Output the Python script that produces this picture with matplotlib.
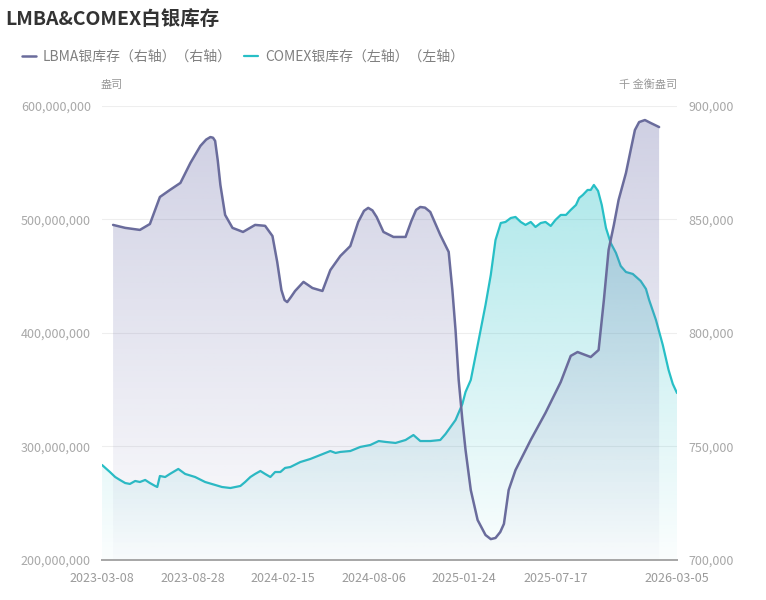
import matplotlib
matplotlib.use('Agg')
import numpy as np
import pandas as pd
import matplotlib.pyplot as plt
import matplotlib.dates as mdates
from matplotlib.ticker import FixedLocator, FuncFormatter

plt.rcParams['font.family'] = ['Noto Sans CJK SC', 'DejaVu Sans']

# LBMA (千金衡盎司, 右轴)
lbma_dates = ['2023-03-29', '2023-04-21', '2023-05-19', '2023-06-07', '2023-06-26', '2023-07-15',
              '2023-08-04', '2023-08-23', '2023-09-11', '2023-09-22', '2023-09-30', '2023-10-05',
              '2023-10-09', '2023-10-14', '2023-10-19', '2023-10-28', '2023-11-11', '2023-12-01',
              '2023-12-24', '2024-01-12', '2024-01-26', '2024-02-04', '2024-02-12', '2024-02-18',
              '2024-02-23', '2024-03-01', '2024-03-09', '2024-03-25', '2024-04-11', '2024-04-30',
              '2024-05-15', '2024-06-03', '2024-06-22', '2024-07-07', '2024-07-18', '2024-07-26',
              '2024-08-03', '2024-08-11', '2024-08-24', '2024-09-12', '2024-10-05', '2024-10-16',
              '2024-10-25', '2024-11-02', '2024-11-11', '2024-11-21', '2024-12-10', '2024-12-26',
              '2025-01-02', '2025-01-08', '2025-01-14', '2025-01-21', '2025-01-27', '2025-02-06',
              '2025-02-19', '2025-03-06', '2025-03-16', '2025-03-25', '2025-04-03', '2025-04-10',
              '2025-04-19', '2025-05-02', '2025-05-31', '2025-06-28', '2025-07-27', '2025-08-15',
              '2025-08-28', '2025-09-22', '2025-10-07', '2025-10-17', '2025-10-26', '2025-11-05',
              '2025-11-14', '2025-11-28', '2025-12-07', '2025-12-15', '2025-12-23', '2026-01-03',
              '2026-01-14', '2026-01-30']
lbma_vals = [847600, 846300, 845400, 848000, 859900, 863000,
             866100, 874900, 882400, 885200, 886300, 886000,
             884600, 876000, 865200, 852000, 846300, 844500,
             847600, 847200, 842700, 831300, 818900, 814500,
             813600, 815800, 818500, 822500, 819800, 818500,
             827700, 833900, 838300, 848900, 853800, 855100,
             854000, 851100, 844500, 842300, 842300, 849300,
             854200, 855500, 855200, 853300, 843200, 835700,
             818900, 801300, 779300, 761700, 748500, 730800,
             717600, 711000, 709200, 709700, 712300, 715900,
             730800, 739600, 752900, 764800, 778400, 789900,
             791600, 789400, 792500, 814500, 836600, 847600,
             858600, 870500, 880600, 889400, 892900, 893800,
             892500, 890700]

# COMEX (盎司, 左轴)
comex_dates = ['2023-03-08', '2023-03-23', '2023-04-02', '2023-04-11', '2023-04-21', '2023-04-30',
               '2023-05-10', '2023-05-19', '2023-05-29', '2023-06-07', '2023-06-17', '2023-06-21',
               '2023-06-26', '2023-07-06', '2023-07-15', '2023-07-31', '2023-08-13', '2023-09-01',
               '2023-09-20', '2023-10-09', '2023-10-22', '2023-11-07', '2023-11-26', '2023-12-05',
               '2023-12-15', '2023-12-24', '2024-01-03', '2024-01-12', '2024-01-22', '2024-01-31',
               '2024-02-10', '2024-02-19', '2024-02-29', '2024-03-19', '2024-04-07', '2024-04-26',
               '2024-05-15', '2024-05-25', '2024-06-03', '2024-06-22', '2024-07-11', '2024-07-30',
               '2024-08-15', '2024-08-28', '2024-09-16', '2024-10-05', '2024-10-20', '2024-11-02',
               '2024-11-21', '2024-12-10', '2024-12-20', '2025-01-08', '2025-01-21', '2025-01-27',
               '2025-02-06', '2025-02-21', '2025-03-06', '2025-03-16', '2025-03-25', '2025-04-04',
               '2025-04-13', '2025-04-23', '2025-05-02', '2025-05-12', '2025-05-21', '2025-05-31',
               '2025-06-09', '2025-06-19', '2025-06-28', '2025-07-08', '2025-07-17', '2025-07-27',
               '2025-08-06', '2025-08-15', '2025-08-25', '2025-08-31', '2025-09-07', '2025-09-16',
               '2025-09-22', '2025-09-28', '2025-10-06', '2025-10-13', '2025-10-21', '2025-10-30',
               '2025-11-09', '2025-11-18', '2025-11-28', '2025-12-11', '2025-12-26', '2026-01-05',
               '2026-01-11', '2026-01-24', '2026-02-06', '2026-02-17', '2026-02-25', '2026-03-05']
comex_vals = [283.7e6, 277.5e6, 273.1e6, 270.5e6, 267.8e6, 267.0e6,
              269.6e6, 268.7e6, 270.5e6, 267.8e6, 265.2e6, 264.3e6,
              274.0e6, 273.1e6, 275.8e6, 280.2e6, 275.8e6, 273.1e6,
              268.7e6, 266.1e6, 264.3e6, 263.4e6, 265.2e6, 268.7e6,
              273.1e6, 275.8e6, 278.4e6, 275.8e6, 273.1e6, 277.5e6,
              277.5e6, 281.1e6, 281.9e6, 286.3e6, 289.0e6, 292.5e6,
              296.0e6, 294.3e6, 295.2e6, 296.0e6, 299.6e6, 301.3e6,
              304.8e6, 304.0e6, 303.1e6, 305.7e6, 310.1e6, 304.8e6,
              304.8e6, 305.7e6, 311.0e6, 323.3e6, 337.4e6, 348.0e6,
              358.6e6, 393.8e6, 424.7e6, 451.1e6, 481.9e6, 496.9e6,
              497.8e6, 501.3e6, 502.2e6, 497.8e6, 495.2e6, 497.8e6,
              493.4e6, 496.9e6, 497.8e6, 494.3e6, 499.6e6, 504.0e6,
              504.0e6, 508.4e6, 512.8e6, 518.9e6, 521.6e6, 526.0e6,
              526.0e6, 530.4e6, 525.1e6, 512.8e6, 492.5e6, 479.3e6,
              470.5e6, 459.0e6, 453.7e6, 452.0e6, 445.8e6, 438.8e6,
              429.1e6, 411.5e6, 389.4e6, 367.4e6, 355.1e6, 347.1e6]

x_ticks = ['2023-03-08', '2023-08-28', '2024-02-15', '2024-08-06', '2025-01-24', '2025-07-17', '2026-03-05']
left_ticks = [200e6, 300e6, 400e6, 500e6, 600e6]
right_ticks = [700000, 750000, 800000, 850000, 900000]

lbma_color = '#6a6c9c'
comex_color = '#27bfc6'


def gradient_fill(ax, x, y, base, rgb, a_top, a_bot, z):
    x = np.asarray(x)
    y = np.asarray(y)
    poly = ax.fill_between(x, y, base, facecolor='none', edgecolor='none', zorder=z)
    grad = np.zeros((256, 1, 4))
    grad[:, :, :3] = rgb
    grad[:, 0, 3] = np.linspace(a_top, a_bot, 256)
    im = ax.imshow(grad, aspect='auto', origin='upper',
                   extent=[x.min(), x.max(), base, y.max()], zorder=z)
    im.set_clip_path(poly.get_paths()[0], transform=ax.transData)


fig = plt.figure(figsize=(7.66, 6.0), dpi=100)
ax = fig.add_axes([0.1332, 0.0667, 0.7506, 0.7567])
ax2 = ax.twinx()

xl = mdates.date2num(pd.to_datetime(lbma_dates))
xc = mdates.date2num(pd.to_datetime(comex_dates))

gradient_fill(ax, xc, comex_vals, 200e6, (38/255, 192/255, 199/255), 0.36, 0.02, 1)
lc, = ax.plot(xc, comex_vals, color=comex_color, lw=1.6, zorder=3,
              solid_joinstyle='round', solid_capstyle='round')

gradient_fill(ax2, xl, lbma_vals, 700000, (110/255, 112/255, 170/255), 0.33, 0.02, 1)
ll, = ax2.plot(xl, lbma_vals, color=lbma_color, lw=1.8, zorder=3,
               solid_joinstyle='round', solid_capstyle='round')

xmin = mdates.date2num(pd.Timestamp('2023-03-08'))
xmax = mdates.date2num(pd.Timestamp('2026-03-05'))
ax.set_xlim(xmin, xmax)
ax.set_ylim(200e6, 600e6)
ax2.set_ylim(700000, 900000)

ax.xaxis.set_major_locator(FixedLocator(mdates.date2num(pd.to_datetime(x_ticks))))
ax.set_xticklabels(x_ticks)
ax.yaxis.set_major_locator(FixedLocator(left_ticks))
ax.yaxis.set_major_formatter(FuncFormatter(lambda v, p: f'{v:,.0f}'))
ax2.yaxis.set_major_locator(FixedLocator(right_ticks))
ax2.yaxis.set_major_formatter(FuncFormatter(lambda v, p: f'{v:,.0f}'))

ax.grid(axis='y', color='#eeeeee', lw=0.8)
ax.set_axisbelow(True)
for a in (ax, ax2):
    for s in ('top', 'left', 'right'):
        a.spines[s].set_visible(False)
    a.spines['bottom'].set_color('#a8a8a8')
    a.spines['bottom'].set_linewidth(1.4)
ax.tick_params(axis='x', length=0, pad=9, labelsize=9, labelcolor='#9a9a9a')
ax.tick_params(axis='y', length=0, pad=8, labelsize=9, labelcolor='#a8a8a8')
ax2.tick_params(axis='y', length=0, pad=8, labelsize=9, labelcolor='#a8a8a8')

fig.text(0.007, 0.968, 'LMBA&COMEX白银库存', fontsize=14, fontweight='bold', color='#333333', va='center')
fig.legend([ll, lc], ['LBMA银库存（右轴）（右轴）', 'COMEX银库存（左轴）（左轴）'],
           loc='center left', bbox_to_anchor=(0.012, 0.905), ncol=2, frameon=False,
           fontsize=10, labelcolor='#808080', handlelength=1.0, handletextpad=0.5,
           columnspacing=0.9)
fig.text(0.146, 0.858, '盎司', fontsize=8, color='#999999', ha='center', va='center')
fig.text(0.884, 0.858, '千 金衡盎司', fontsize=8, color='#999999', ha='right', va='center')

fig.savefig('out.png', dpi=100)
